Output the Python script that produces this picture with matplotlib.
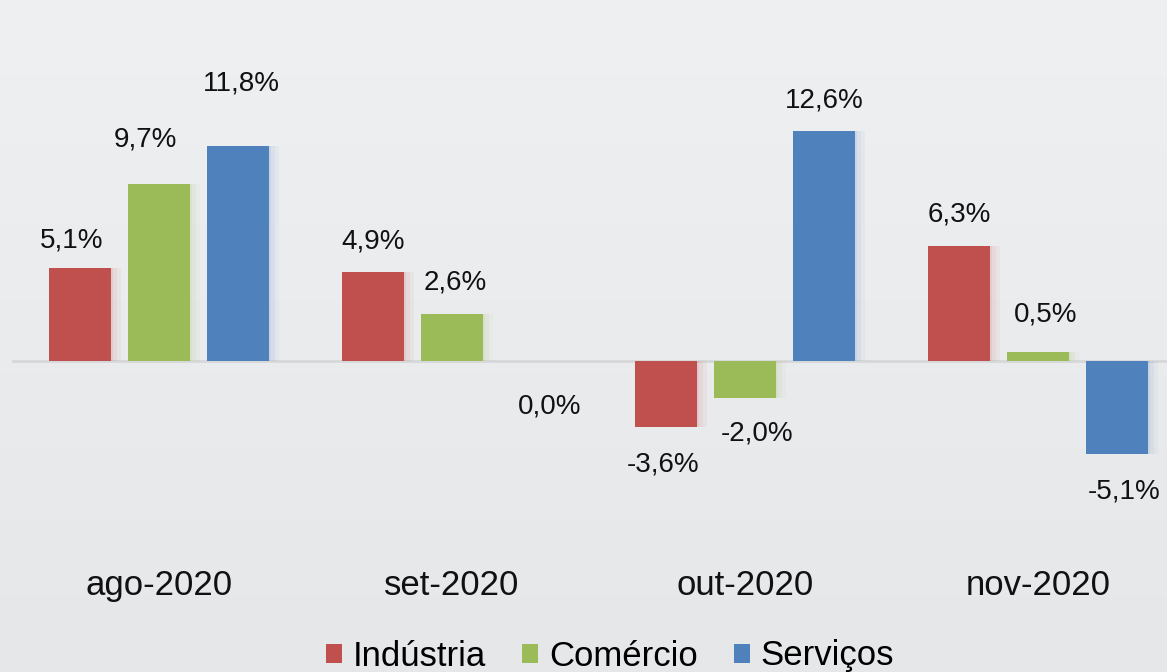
import matplotlib
matplotlib.use("Agg")
import matplotlib.pyplot as plt
from matplotlib.patches import Patch
import numpy as np

plt.rcParams['font.family'] = ['Liberation Sans', 'DejaVu Sans']

meses = ["ago-2020", "set-2020", "out-2020", "nov-2020"]
series = ["Indústria", "Comércio", "Serviços"]
industria = [5.1, 4.9, -3.6, 6.3]
comercio = [9.7, 2.6, -2.0, 0.5]
servicos = [11.8, 0.0, 12.6, -5.1]
cores = ["#C0504D", "#9BBB59", "#4F81BD"]

# label nudges (x in bar units, y in points), placed by hand like in the original
lbl_dx = [[-0.03, 0.0, -0.01, 0.0], [-0.045, 0.01, 0.04, 0.025], [0.01, 0.065, 0.0, 0.025]]
lbl_dy = [[20, 22, -27, 23], [32, 22, -26, 27], [45, -33, 22, -27]]

fig = plt.figure(figsize=(11.67, 6.72), dpi=100)
bg = fig.add_axes([0, 0, 1, 1])
grad = np.linspace(0, 1, 256).reshape(-1, 1)
bg.imshow(grad, aspect="auto", cmap=matplotlib.colors.LinearSegmentedColormap.from_list("g", ["#EFF0F2", "#E6E7E9"]),
          extent=[0, 1, 0, 1])
bg.set_axis_off()

ax = fig.add_axes([0, 0, 1, 1])
ax.patch.set_alpha(0)
ax.set_axis_off()

px = 1 / 293.0
largura = 62 * px
passo = 79 * px
x = np.arange(len(meses))

ax.set_xlim(-0.5427, 3.440)
ax.set_ylim(-17.04, 19.78)

ax.plot([-0.5, 4], [0, 0], color="#D6D7D9", lw=2, zorder=1)

dados = [industria, comercio, servicos]
for i, (vals, cor) in enumerate(zip(dados, cores)):
    xs = x + (i - 1) * passo
    # soft glow like the excel shadow
    for k, a in [(8, 0.05), (5, 0.07), (2, 0.10)]:
        ax.bar(xs + k * px * 0.7, vals, width=largura + k * px, color=cor, alpha=a,
               linewidth=0, zorder=2)
    ax.bar(xs, vals, width=largura, color=cor, linewidth=0, zorder=3)
    for j, v in enumerate(vals):
        txt = ("%.1f%%" % v).replace(".", ",")
        ax.annotate(txt, (xs[j] + lbl_dx[i][j], v), xytext=(0, lbl_dy[i][j]),
                    textcoords="offset points", ha="center", va="center",
                    fontsize=20, color="#111111")

for j, m in enumerate(meses):
    ax.text(x[j], -12.3, m, ha="center", va="center", fontsize=25, color="#111111")

handles = [Patch(facecolor=c, edgecolor="none") for c in cores]
fig.legend(handles, series, loc="center", bbox_to_anchor=(610 / 1167, 1 - 656 / 672),
           ncol=3, frameon=False, fontsize=25, handlelength=0.47, handleheight=0.47,
           handletextpad=0.3, columnspacing=1.05, borderaxespad=0)

fig.savefig("out.png", dpi=100)
